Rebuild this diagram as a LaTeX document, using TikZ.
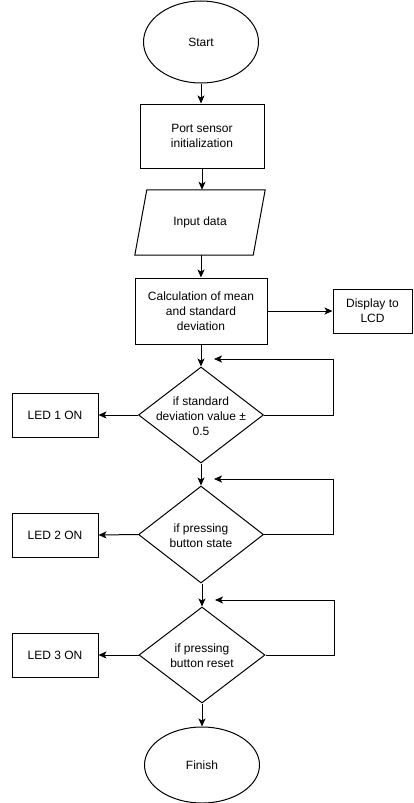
\documentclass[tikz,border=0pt]{standalone}
\usepackage{fontspec}
\setmainfont{Liberation Sans}
\usetikzlibrary{shapes.geometric,arrows.meta}
\begin{document}
\begin{tikzpicture}[x=1pt,y=-1pt,
  every node/.style={font=\fontsize{12}{15}\selectfont, align=center, inner sep=0pt},
  box/.style={draw, line width=1pt, rectangle},
  oval/.style={draw, line width=1pt, ellipse},
  dia/.style={draw, line width=1pt, diamond},
  arr/.style={line width=1pt, -{Stealth[length=8pt,width=7pt,inset=2pt]}}
]
\useasboundingbox (0,0) rectangle (413,803);
% nodes
\node[oval, minimum width=115, minimum height=82] (start) at (201,42) {Start};
\node[box, minimum width=124, minimum height=64] (init) at (202,136) {Port sensor\\initialization};
\node[minimum width=130, minimum height=65] (in) at (200,222.5) {Input data};
\draw[line width=1pt] ([xshift=12pt]in.north west) -- (in.north east) -- ([xshift=-12pt]in.south east) -- (in.south west) -- cycle;
\node[box, minimum width=132, minimum height=66] (calc) at (201,311) {Calculation of mean\\and standard\\deviation};
\node[box, minimum width=79, minimum height=44] (lcd) at (372.5,311) {Display to\\LCD};
\node[dia, minimum width=125, minimum height=96] (d1) at (201,415) {};
\node (d1t) at (201,416) {if standard\\deviation value ±\\0.5};
\node[box, minimum width=86, minimum height=44] (led1) at (55,415) {LED 1 ON};
\node[dia, minimum width=125, minimum height=97] (d2) at (201,534.5) {};
\node (d2t) at (201,535.5) {if pressing\\button state};
\node[box, minimum width=86, minimum height=44] (led2) at (55,535) {LED 2 ON};
\node[dia, minimum width=126, minimum height=96] (d3) at (202,655) {};
\node (d3t) at (202,656) {if pressing\\button reset};
\node[box, minimum width=86, minimum height=44] (led3) at (55,655) {LED 3 ON};
\node[oval, minimum width=115, minimum height=76] (fin) at (202,765) {Finish};
% loop coordinates
\coordinate (r1) at (333,359);
\coordinate (l1) at (214,359);
\coordinate (r2) at (333,479);
\coordinate (l2) at (214,479);
\coordinate (r3) at (334,600);
\coordinate (l3) at (215,600);
% connectors
\draw[arr] (start.south) -- (start.south |- init.north);
\draw[arr] (init.south) -- (init.south |- in.north);
\draw[arr] (in.south -| calc.north) -- (calc.north);
\draw[arr] (calc.east) -- (lcd.west);
\draw[arr] (calc.south) -- (d1.north);
\draw[arr] (d1.west) -- (led1.east);
\draw[arr] (d1.east) -| (r1) -- (l1);
\draw[arr] (d1.south) -- (d2.north);
\draw[arr] (d2.west) -- (led2.east);
\draw[arr] (d2.east) -| (r2) -- (l2);
\draw[arr] (d2.south -| d3.north) -- (d3.north);
\draw[arr] (d3.west) -- (led3.east);
\draw[arr] (d3.east) -| (r3) -- (l3);
\draw[arr] (d3.south) -- (fin.north);
\end{tikzpicture}
\end{document}
